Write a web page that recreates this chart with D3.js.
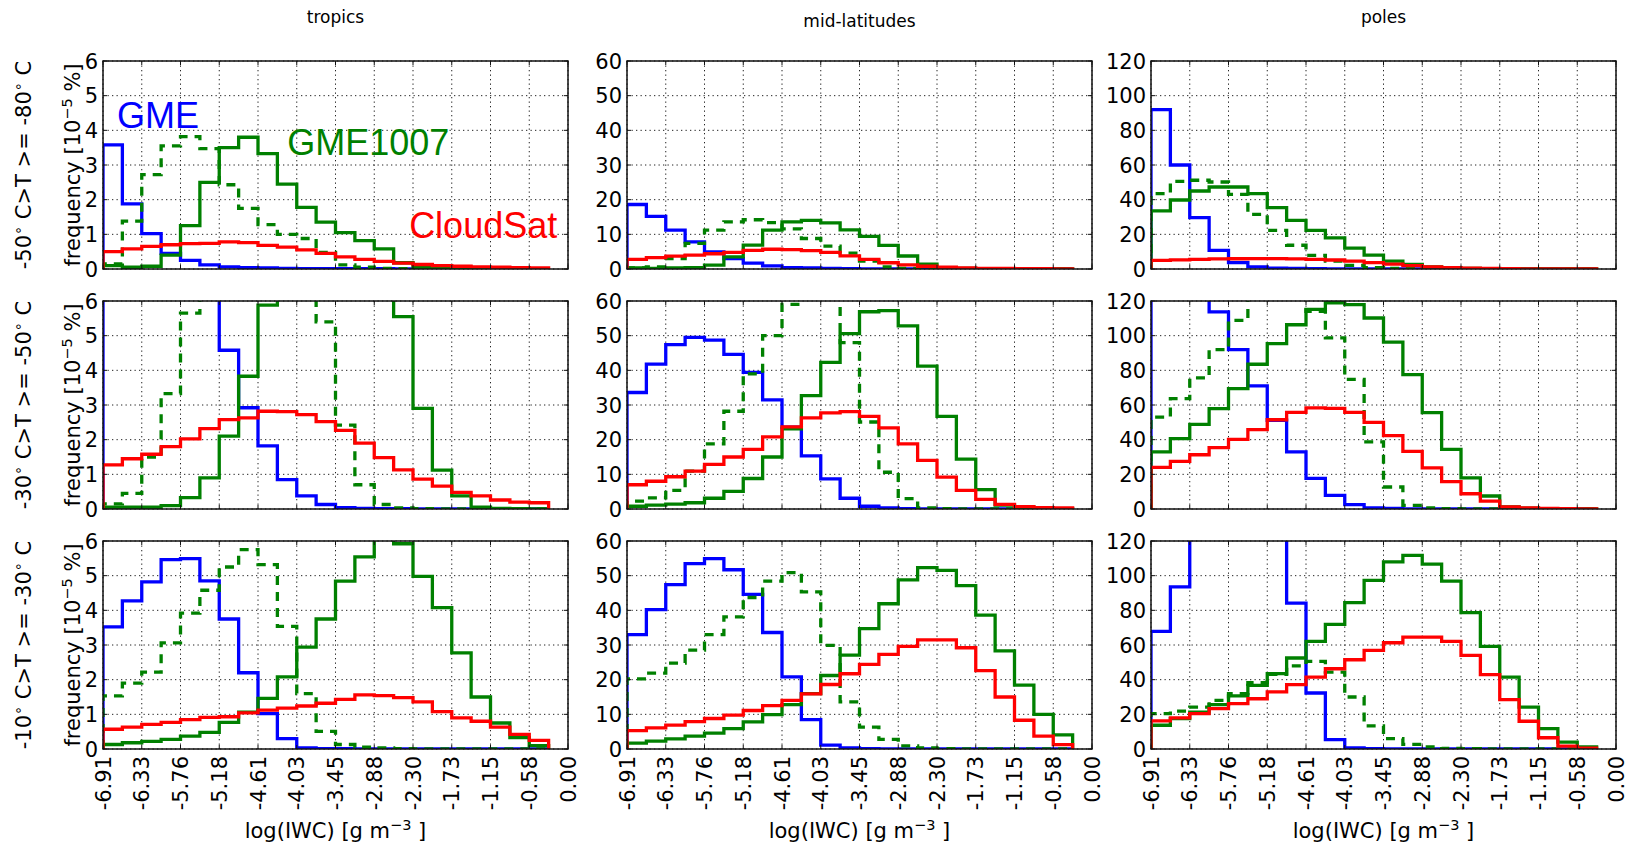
<!DOCTYPE html>
<html>
<head>
<meta charset="utf-8">
<script src="https://cdn.jsdelivr.net/npm/d3@7"></script>
<style>
  body { margin: 0; background: #fff; }
  svg { display: block; }
</style>
</head>
<body>
<svg id="chart" width="1635" height="845"></svg>
<script>
// ---- categories and labels ----
const regionNames = ["tropics", "mid-latitudes", "poles"];
const regionMax = [6, 60, 120];
const regionStep = [1, 10, 20];
const tempBands = [["-50", "-80"], ["-30", "-50"], ["-10", "-30"]];
const xTickLabels = ["-6.91", "-6.33", "-5.76", "-5.18", "-4.61", "-4.03", "-3.45",
                     "-2.88", "-2.30", "-1.73", "-1.15", "-0.58", "0.00"];

// ---- frequencies per log(IWC) bin [10^-5 %], 23 bins each ----
// -50 C > T >= -80 C
const tropCold_gme      = [3.58,1.88,1.02,0.45,0.25,0.12,0.06,0.04,0.03,0.02,0.01,0.01,0.01,0.01,0.01,0.005,0,0,0,0,0,0,0];
const tropCold_gme1007  = [0.1,0.05,0.08,0.4,1.25,2.5,3.5,3.8,3.33,2.45,1.78,1.35,1.05,0.82,0.58,0.18,0.05,0.02,0.01,0.01,0,0,0];
const tropCold_gme1007b = [0.15,1.38,2.72,3.55,3.82,3.47,2.43,1.75,1.28,1.0,0.88,0.48,0.12,0.05,0.02,0.01,0,0,0,0,0,0,0];
const tropCold_cloudsat = [0.5,0.58,0.65,0.7,0.73,0.74,0.78,0.76,0.68,0.63,0.55,0.45,0.35,0.28,0.22,0.17,0.13,0.1,0.08,0.06,0.05,0.04,0.03];

const midCold_gme      = [18.6,15.2,11.2,7.8,4.9,3.0,1.7,0.9,0.4,0.3,0.2,0.1,0.05,0.05,0.03,0.02,0,0,0,0,0,0,0];
const midCold_gme1007  = [0.3,0.2,0.3,0.4,1.1,3.5,6.9,11.2,13.6,14.0,13.3,11.3,9.4,6.8,3.75,1.4,0.4,0.2,0.1,0.05,0.03,0.02,0.01];
const midCold_gme1007b = [0.3,0.6,3.0,7.4,11.2,13.6,14.2,13.4,11.6,8.8,6.6,4.6,2.3,0.6,0.2,0.05,0,0,0,0,0,0,0];
const midCold_cloudsat = [2.8,3.3,3.7,4.0,4.4,4.8,5.4,5.7,5.6,5.3,4.8,3.8,2.8,1.8,1.2,0.8,0.5,0.3,0.2,0.15,0.1,0.08,0.05];

const polCold_gme      = [92,60,29.6,10.8,3.7,1.2,0.5,0.3,0.2,0.1,0.05,0.03,0.02,0.01,0,0,0,0,0,0,0,0,0];
const polCold_gme1007  = [33.5,39.8,45,47.3,47.3,43.5,35.4,28,22.3,18,12,8,4.6,2.7,1.2,0.6,0.4,0.2,0.15,0.1,0.05,0.03,0.02];
const polCold_gme1007b = [43.5,50.6,51.2,50.2,43,31.5,22.3,13.7,7.9,4.6,2.1,0.8,0.4,0.2,0.1,0.05,0,0,0,0,0,0,0];
const polCold_cloudsat = [5,5.3,5.6,5.8,5.9,6,6,5.8,5.6,5.2,4.5,3.7,2.8,1.9,1.2,0.8,0.5,0.3,0.2,0.1,0.1,0.1,0.1];

// -30 C > T >= -50 C
const tropMid_gme      = [9,12,14,14.5,12,8.5,4.58,2.92,1.82,0.85,0.38,0.13,0.04,0.02,0.01,0.01,0,0,0,0,0,0,0];
const tropMid_gme1007  = [0.05,0.05,0.05,0.1,0.33,0.9,2.1,3.83,5.88,8,9.5,10.2,9.6,8.6,7.3,5.55,2.9,1.12,0.38,0.05,0.02,0.01,0];
const tropMid_gme1007b = [0.15,0.45,1.5,3.33,5.65,7.2,8.6,9.2,8.9,8.0,6.8,5.4,2.42,0.7,0.13,0.03,0.01,0,0,0,0,0,0];
const tropMid_cloudsat = [1.27,1.45,1.58,1.8,2.02,2.32,2.58,2.63,2.82,2.81,2.72,2.52,2.27,1.9,1.48,1.13,0.86,0.66,0.48,0.38,0.26,0.2,0.18];

const midMid_gme      = [33.6,41.8,47.4,49.5,48.7,44.6,39.4,31.5,23.6,15.3,8.7,3.1,0.8,0.3,0.1,0.05,0.02,0,0,0,0,0,0];
const midMid_gme1007  = [0.8,1.1,1.4,1.8,3.1,5.1,8.8,15,23.1,32.7,42.3,50.6,56.9,57.2,52.8,41.2,26.7,14.4,5.6,1.1,0.5,0.2,0.1];
const midMid_gme1007b = [2.3,3.2,5.4,10.9,18.8,28.2,39,50,59,63,62,48,25.1,10.6,3.0,0.3,0.1,0,0,0,0,0,0];
const midMid_cloudsat = [7.0,8.0,9.3,10.9,12.9,15,17.2,20.8,23.7,26.3,27.7,28.1,26.7,23.4,18.8,14,9.2,5.4,2.8,1.35,0.7,0.4,0.3];

const polMid_gme      = [125,135,128,113.7,92,71,51.2,32.9,17.7,7.9,2.5,0.6,0.3,0.1,0.05,0,0,0,0,0,0,0,0];
const polMid_gme1007  = [32.9,40.6,48.8,57.9,69.4,83.5,95.4,106.3,115.2,119,117.9,110.2,96.3,77.5,55.6,34.4,17.9,7.5,1.2,0.5,0.2,0.1,0.05];
const polMid_gme1007b = [53,63.7,75.6,92,108.8,122,124,121,114,98.7,74.8,38.7,12.7,2.1,0.6,0.2,0.1,0,0,0,0,0,0];
const polMid_cloudsat = [24,27.5,31.3,35.4,40.2,45.8,51.5,55.8,58.3,58.1,55.8,50,42.3,33.3,23.7,15.8,8.8,4.6,1.2,0.6,0.3,0.2,0.1];

// -10 C > T >= -30 C
const tropWarm_gme      = [3.52,4.27,4.82,5.46,5.49,4.85,3.75,2.2,1.02,0.3,0.03,0.01,0.01,0,0,0,0,0,0,0,0,0,0];
const tropWarm_gme1007  = [0.13,0.18,0.22,0.28,0.37,0.48,0.77,1.06,1.46,2.08,2.94,3.75,4.84,5.54,6.05,5.92,4.98,4.08,2.77,1.5,0.75,0.33,0.1];
const tropWarm_gme1007b = [1.53,1.9,2.22,3.06,3.92,4.58,5.25,5.75,5.32,3.54,1.6,0.51,0.13,0.05,0.03,0.01,0,0,0,0,0,0,0];
const tropWarm_cloudsat = [0.57,0.63,0.71,0.77,0.85,0.91,0.93,1.04,1.12,1.18,1.24,1.32,1.43,1.56,1.54,1.48,1.36,1.08,0.9,0.8,0.63,0.42,0.25];

const midWarm_gme      = [33,40.2,47.4,53.5,54.9,51.7,44.6,33.6,20.8,8.5,1.1,0.3,0.1,0.05,0,0,0,0,0,0,0,0,0];
const midWarm_gme1007  = [1.7,2.3,2.9,3.7,4.6,5.9,7.8,9.9,12.8,16,21.2,27.1,34.7,41.9,48.8,52.3,51.5,47.1,38.6,28.3,18.4,10,4.1];
const midWarm_gme1007b = [20.2,21.9,24.8,28.5,33,38.1,43.7,48.4,50.9,45.3,29.9,13.6,6.3,2.8,0.9,0.3,0.1,0,0,0,0,0,0];
const midWarm_cloudsat = [5.3,6.1,6.9,7.9,8.8,9.8,11.1,12.5,14,15.9,18.6,21.7,24.4,27.3,29.6,31.5,31.5,29.2,22.6,15,8.3,3.7,1.25];

const polWarm_gme      = [67.9,93.5,130,155,165,160,140,84.2,32.3,5.4,0.6,0.2,0.1,0,0,0,0,0,0,0,0,0,0];
const polWarm_gme1007  = [13.7,17.5,21.3,25.6,30.6,36.7,43.5,52.5,62.1,71.9,84.4,97.3,107.9,111.7,106.7,96.9,78.7,59.2,41.5,24.2,11.7,4,1.2];
const polWarm_gme1007b = [20.4,21.9,24.2,28,31.9,38.3,43,48,50.6,44.4,30,13.3,6,2.7,1.2,0.4,0.2,0.1,0,0,0,0,0];
const polWarm_cloudsat = [16.2,17.9,20.4,23.3,26.2,29,32.9,37.1,41.5,46.3,51.5,56.9,61.3,64.6,64.6,62.1,54,42.9,28.5,16,6.5,1.7,0.5];

// panel grid: rows = temperature bands, columns = regions
const panels = [
  [
    { gme: tropCold_gme, gme1007: tropCold_gme1007, gme1007b: tropCold_gme1007b, cloudsat: tropCold_cloudsat },
    { gme: midCold_gme,  gme1007: midCold_gme1007,  gme1007b: midCold_gme1007b,  cloudsat: midCold_cloudsat },
    { gme: polCold_gme,  gme1007: polCold_gme1007,  gme1007b: polCold_gme1007b,  cloudsat: polCold_cloudsat }
  ],
  [
    { gme: tropMid_gme, gme1007: tropMid_gme1007, gme1007b: tropMid_gme1007b, cloudsat: tropMid_cloudsat },
    { gme: midMid_gme,  gme1007: midMid_gme1007,  gme1007b: midMid_gme1007b,  cloudsat: midMid_cloudsat },
    { gme: polMid_gme,  gme1007: polMid_gme1007,  gme1007b: polMid_gme1007b,  cloudsat: polMid_cloudsat }
  ],
  [
    { gme: tropWarm_gme, gme1007: tropWarm_gme1007, gme1007b: tropWarm_gme1007b, cloudsat: tropWarm_cloudsat },
    { gme: midWarm_gme,  gme1007: midWarm_gme1007,  gme1007b: midWarm_gme1007b,  cloudsat: midWarm_cloudsat },
    { gme: polWarm_gme,  gme1007: polWarm_gme1007,  gme1007b: polWarm_gme1007b,  cloudsat: polWarm_cloudsat }
  ]
];

// series styling, in drawing order
const seriesStyle = [
  { key: "gme",      color: "#0000ff", dash: null },
  { key: "gme1007b", color: "#008000", dash: "9,7" },
  { key: "gme1007",  color: "#008000", dash: null },
  { key: "cloudsat", color: "#ff0000", dash: null }
];

// in-panel labels (data coordinates of the first panel)
const seriesLabels = [
  { text: "GME",      color: "#0000ff", x: -6.70, y: 4.07 },
  { text: "GME1007",  color: "#008000", x: -4.17, y: 3.29 },
  { text: "CloudSat", color: "#ff0000", x: -2.36, y: 0.89 }
];

// ---- layout ----
const colLeft = [103, 627, 1151];
const rowTop = [61, 301, 541];
const panelW = 465, panelH = 208;
const FONT = '"DejaVu Sans", sans-serif';

// log(IWC) bins: ln(10^-3) .. in steps of ln(10)/8
const xMin = Math.log(1e-3);
const binWidth = Math.LN10 / 8;
const nBins = 23;
const binEdges = d3.range(nBins + 1).map(i => xMin + i * binWidth);
const xTickValues = d3.range(xTickLabels.length).map(k => Math.LN10 * (-3 + k / 4));

const x = d3.scaleLinear().domain([xMin, 0]).range([0, panelW]);

const svg = d3.select("#chart");
svg.append("rect").attr("width", 1635).attr("height", 845).attr("fill", "#fff");
const defs = svg.append("defs");

const measureCtx = document.createElement("canvas").getContext("2d");

panels.forEach((row, r) => {
  row.forEach((series, c) => {
    const y = d3.scaleLinear().domain([0, regionMax[c]]).range([panelH, 0]);
    const yTicks = d3.range(0, regionMax[c] + 1e-9, regionStep[c]);
    const g = svg.append("g").attr("transform", `translate(${colLeft[c]},${rowTop[r]})`);
    const clipId = `clip-${r}-${c}`;
    defs.append("clipPath").attr("id", clipId)
      .append("rect").attr("width", panelW).attr("height", panelH);

    // dotted grid
    const grid = g.append("g").attr("stroke", "#222").attr("stroke-width", 1)
      .attr("stroke-dasharray", "1.3,3.2").attr("fill", "none");
    xTickValues.forEach(v => grid.append("line")
      .attr("x1", x(v)).attr("x2", x(v)).attr("y1", 0).attr("y2", panelH));
    yTicks.forEach(v => grid.append("line")
      .attr("x1", 0).attr("x2", panelW).attr("y1", y(v)).attr("y2", y(v)));

    // step histograms
    const line = d3.line().x(d => x(d[0])).y(d => y(d[1]));
    const plot = g.append("g").attr("clip-path", `url(#${clipId})`);
    seriesStyle.forEach(s => {
      const vals = series[s.key];
      const pts = [[binEdges[0], 0]];
      vals.forEach((v, i) => { pts.push([binEdges[i], v]); pts.push([binEdges[i + 1], v]); });
      pts.push([binEdges[nBins], 0]);
      plot.append("path")
        .attr("d", line(pts))
        .attr("fill", "none")
        .attr("stroke", s.color)
        .attr("stroke-width", 3.3)
        .attr("stroke-linejoin", "miter")
        .attr("stroke-dasharray", s.dash);
    });

    // frame and inward ticks
    g.append("rect").attr("width", panelW).attr("height", panelH)
      .attr("fill", "none").attr("stroke", "#111").attr("stroke-width", 1.5);
    const ticks = g.append("g").attr("stroke", "#111").attr("stroke-width", 1);
    xTickValues.forEach(v => {
      ticks.append("line").attr("x1", x(v)).attr("x2", x(v)).attr("y1", panelH).attr("y2", panelH - 4);
      ticks.append("line").attr("x1", x(v)).attr("x2", x(v)).attr("y1", 0).attr("y2", 4);
    });
    yTicks.forEach(v => {
      ticks.append("line").attr("x1", 0).attr("x2", 4).attr("y1", y(v)).attr("y2", y(v));
      ticks.append("line").attr("x1", panelW).attr("x2", panelW - 4).attr("y1", y(v)).attr("y2", y(v));
    });

    // y tick labels
    yTicks.forEach(v => {
      g.append("text").attr("x", -5).attr("y", y(v)).attr("dy", "0.36em")
        .attr("text-anchor", "end").attr("font-family", FONT).attr("font-size", 21)
        .attr("fill", "#000").text(d3.format("d")(v));
    });

    // x tick labels and axis label on the bottom row
    if (r === panels.length - 1) {
      xTickValues.forEach((v, k) => {
        g.append("text")
          .attr("transform", `translate(${x(v)},${panelH + 7}) rotate(-90)`)
          .attr("dy", "0.36em").attr("text-anchor", "end")
          .attr("font-family", FONT).attr("font-size", 21).attr("fill", "#000")
          .text(xTickLabels[k]);
      });
      const xl = g.append("text").attr("x", panelW / 2).attr("y", 838)
        .attr("transform", `translate(0,${-rowTop[r]})`)
        .attr("text-anchor", "middle").attr("font-family", FONT).attr("font-size", 21).attr("fill", "#000");
      xl.append("tspan").text("log(IWC) [g m");
      xl.append("tspan").attr("baseline-shift", "super").attr("font-size", 14.5).text("\u22123");
      xl.append("tspan").text(" ]");
    }

    // region titles on the top row, aligned on their lower ink edge
    if (r === 0) {
      measureCtx.font = `17px ${FONT}`;
      const desc = measureCtx.measureText(regionNames[c]).actualBoundingBoxDescent || 0;
      g.append("text").attr("x", panelW / 2).attr("y", 27 - desc - rowTop[r])
        .attr("text-anchor", "middle").attr("font-family", FONT).attr("font-size", 17)
        .attr("fill", "#000").text(regionNames[c]);
    }

    // y label and temperature band on the left column
    if (c === 0) {
      const yl = svg.append("text")
        .attr("transform", `translate(80,${rowTop[r] + panelH / 2}) rotate(-90)`)
        .attr("text-anchor", "middle").attr("font-family", FONT).attr("font-size", 21).attr("fill", "#000");
      yl.append("tspan").text("frequency [10");
      yl.append("tspan").attr("baseline-shift", "super").attr("font-size", 14.5).text("\u22125");
      yl.append("tspan").text("  %]");

      const band = tempBands[r];
      const tl = svg.append("text")
        .attr("transform", `translate(31,${rowTop[r] + panelH / 2}) rotate(-90)`)
        .attr("text-anchor", "middle").attr("font-family", FONT).attr("font-size", 21).attr("fill", "#000");
      tl.append("tspan").text(band[0]);
      tl.append("tspan").attr("baseline-shift", "super").attr("font-size", 14.5).text("\u2218");
      tl.append("tspan").text(" C>T >= " + band[1]);
      tl.append("tspan").attr("baseline-shift", "super").attr("font-size", 14.5).text("\u2218");
      tl.append("tspan").text(" C");
    }

    // series names in the first panel
    if (r === 0 && c === 0) {
      seriesLabels.forEach(l => {
        g.append("text").attr("x", x(l.x)).attr("y", y(l.y))
          .attr("font-family", '"Liberation Sans", Arial, sans-serif').attr("font-size", 36)
          .attr("fill", l.color).text(l.text);
      });
    }
  });
});
</script>
</body>
</html>
